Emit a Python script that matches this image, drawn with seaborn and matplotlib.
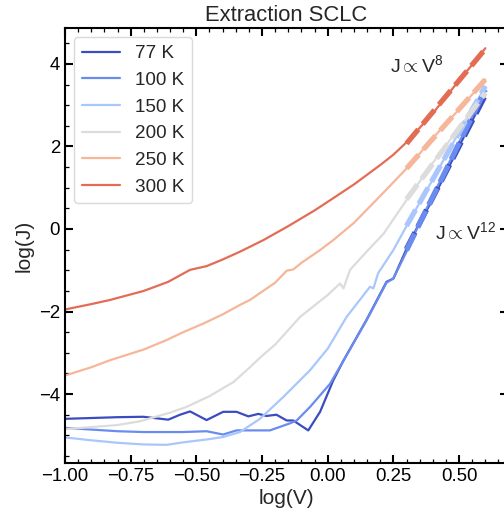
import numpy as np
import pandas as pd
import matplotlib
matplotlib.use("Agg")
import matplotlib.pyplot as plt
import seaborn as sns
from matplotlib.ticker import MultipleLocator

# ---------------- data ----------------
temps = ["77 K", "100 K", "150 K", "200 K", "250 K", "300 K"]
colors = ["#3b4cc0", "#6a8cef", "#aac7fd", "#dcdcdc", "#f6b69a", "#e36c55"]

x_77 = [-1.0, -0.9, -0.8, -0.702, -0.607, -0.562, -0.524, -0.461, -0.398, -0.347,
        -0.302, -0.264, -0.233, -0.195, -0.156, -0.131, -0.074, -0.029, 0.021,
        0.059, 0.148, 0.224, 0.25, 0.313, 0.35, 0.4, 0.5, 0.6]
y_77 = [-4.60, -4.58, -4.56, -4.55, -4.62, -4.50, -4.42, -4.63, -4.43, -4.43,
        -4.54, -4.48, -4.53, -4.50, -4.64, -4.64, -4.88, -4.43, -3.67,
        -3.20, -2.20, -1.28, -1.20, -0.30, 0.15, 0.72, 2.00, 3.25]

x_100 = [-1.0, -0.9, -0.8, -0.7, -0.613, -0.55, -0.461, -0.398, -0.347, -0.3,
         -0.22, -0.144, -0.118, -0.067, 0.009, 0.059, 0.148, 0.224, 0.25, 0.3,
         0.35, 0.4, 0.5, 0.6]
y_100 = [-4.82, -4.86, -4.90, -4.92, -4.92, -4.92, -4.90, -4.98, -4.88, -4.88,
         -4.88, -4.71, -4.64, -4.31, -3.75, -3.20, -2.21, -1.30, -1.20, -0.55,
         0.15, 0.80, 2.10, 3.35]

x_150 = [-1.0, -0.9, -0.8, -0.702, -0.613, -0.55, -0.461, -0.398, -0.334, -0.296,
         -0.258, -0.169, -0.067, 0.0, 0.072, 0.161, 0.174, 0.192, 0.25, 0.313,
         0.4, 0.5, 0.6]
y_150 = [-5.05, -5.12, -5.18, -5.22, -5.23, -5.17, -5.10, -5.04, -4.92, -4.76,
         -4.60, -4.07, -3.42, -2.90, -2.13, -1.40, -1.44, -1.07, -0.51, 0.22,
         1.20, 2.35, 3.45]

x_200 = [-1.0, -0.9, -0.8, -0.715, -0.6, -0.537, -0.45, -0.359, -0.296, -0.258,
         -0.2, -0.105, 0.0, 0.047, 0.06, 0.085, 0.148, 0.212, 0.3, 0.4, 0.5, 0.6]
y_200 = [-4.85, -4.80, -4.75, -4.66, -4.45, -4.31, -4.05, -3.71, -3.35, -3.12,
         -2.80, -2.13, -1.60, -1.32, -1.44, -0.99, -0.55, -0.12, 0.70, 1.60, 2.45, 3.28]

x_250 = [-1.0, -0.9, -0.829, -0.7, -0.613, -0.55, -0.473, -0.4, -0.334, -0.296,
         -0.2, -0.156, -0.131, -0.1, -0.029, 0.021, 0.1, 0.2, 0.313, 0.4, 0.5, 0.6]
y_250 = [-3.55, -3.35, -3.18, -2.92, -2.69, -2.50, -2.29, -2.07, -1.84, -1.72,
         -1.30, -1.01, -0.98, -0.82, -0.51, -0.27, 0.15, 0.80, 1.55, 2.20, 2.90, 3.62]

x_300 = [-1.0, -0.9, -0.829, -0.7, -0.607, -0.524, -0.461, -0.4, -0.334, -0.245,
         -0.15, -0.05, 0.01, 0.1, 0.2, 0.25, 0.3, 0.35, 0.4, 0.45, 0.5, 0.55, 0.6]
y_300 = [-1.95, -1.82, -1.72, -1.50, -1.28, -0.99, -0.90, -0.74, -0.55, -0.27,
         0.07, 0.45, 0.70, 1.08, 1.55, 1.80, 2.10, 2.45, 2.80, 3.20, 3.60, 3.98, 4.38]

xs = [x_77, x_100, x_150, x_200, x_250, x_300]
ys = [y_77, y_100, y_150, y_200, y_250, y_300]

fit_range = [0.3, 0.6]   # log(V) range used for the power-law fits

# ---------------- style ----------------
sns.set_theme(style="ticks")
plt.rcParams["font.family"] = ["Liberation Sans", "DejaVu Sans"]
plt.rcParams["mathtext.fontset"] = "custom"
plt.rcParams["mathtext.rm"] = "Liberation Sans"
plt.rcParams["mathtext.it"] = "Liberation Sans"
plt.rcParams["font.size"] = 13.2

fig = plt.figure(figsize=(5.04, 5.16), dpi=100)
ax = fig.add_axes([65 / 504, 53 / 516, (508 - 65) / 504, (463 - 28) / 516])

frames = []
for t, x, y in zip(temps, xs, ys):
    frames.append(pd.DataFrame({"logV": x, "logJ": y, "T": t}))
df = pd.concat(frames, ignore_index=True)

sns.lineplot(data=df, x="logV", y="logJ", hue="T", hue_order=temps,
             palette=colors, sort=False, estimator=None, units="T",
             linewidth=1.6, ax=ax)

# power-law fits (dashed)
fit_frames = []
for t, x, y in zip(temps, xs, ys):
    x = np.asarray(x); y = np.asarray(y)
    m = (x >= fit_range[0] - 1e-9) & (x <= fit_range[1] + 1e-9)
    p = np.polyfit(x[m], y[m], 1)
    fx = np.array(fit_range)
    fit_frames.append(pd.DataFrame({"logV": fx, "logJ": np.polyval(p, fx), "T": t}))
fdf = pd.concat(fit_frames, ignore_index=True)
sns.lineplot(data=fdf, x="logV", y="logJ", hue="T", hue_order=temps,
             palette=colors, estimator=None, units="T", linewidth=3.8,
             dashes=False, legend=False, ax=ax, linestyle=(0, (3.5, 1.3)))

ax.set_xlim(-1.0, (508 - 65) / 262.7 - 1.0)
ax.set_ylim(-5.67, 4.87)
ax.xaxis.set_major_locator(MultipleLocator(0.25))
ax.xaxis.set_minor_locator(MultipleLocator(0.05))
ax.yaxis.set_major_locator(MultipleLocator(2))
ax.yaxis.set_minor_locator(MultipleLocator(0.5))
ax.tick_params(which="both", direction="in", top=True, right=True,
               labelsize=13.4, colors="black")
ax.tick_params(which="major", length=6, width=1.5)
ax.tick_params(which="minor", length=3, width=0.9)
for s in ax.spines.values():
    s.set_linewidth(1.5)
    s.set_color("black")

ax.set_xlabel("log(V)", fontsize=15, labelpad=3)
ax.set_ylabel("log(J)", fontsize=15, labelpad=4)
ax.set_title("Extraction SCLC", fontsize=15.8, pad=5)

ax.text(0.237, 3.97, r"J$\propto$V$^{8}$", fontsize=14, va="center", ha="left")
ax.text(0.41, -0.07, r"J$\propto$V$^{12}$", fontsize=14, va="center", ha="left")

leg = ax.legend(loc="upper left", fontsize=13.6, title=None, frameon=True)
leg.get_frame().set_edgecolor("#d0d0d0")

fig.savefig("out.png", dpi=100)
